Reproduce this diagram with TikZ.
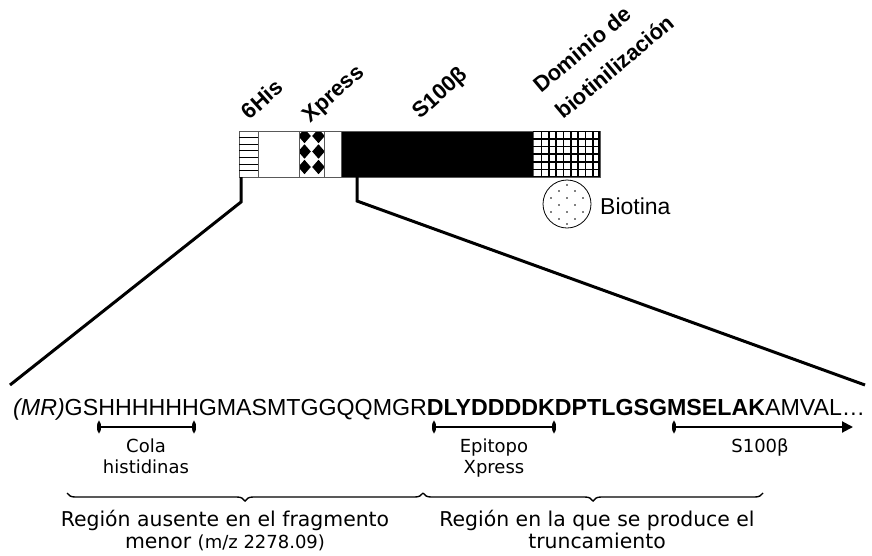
\documentclass[tikz,border=0pt]{standalone}
\usepackage{fontspec}
\setmainfont{Liberation Sans}
\newfontfamily\dvs{DejaVu Sans}
\usetikzlibrary{decorations.pathreplacing,arrows.meta}
\begin{document}
\begin{tikzpicture}[x=1pt,y=-1pt,
  seg/.style={rectangle, draw=black!65, line width=0.8pt, inner sep=0pt, outer sep=0pt, minimum height=46pt, anchor=north west},
  toplabel/.style={rotate=42, anchor=base west, inner sep=0pt, font=\fontsize{22}{26}\selectfont\bfseries},
  domlabel/.style={rotate=40, anchor=base west, inner sep=0pt, font=\fontsize{22}{26}\selectfont\bfseries},
  zoomline/.style={line width=3pt, line join=miter},
  span/.style={line width=2pt, {Ellipse[length=4pt,width=11pt]}-{Ellipse[length=4pt,width=11pt]}},
  spanarrow/.style={line width=2pt, {Ellipse[length=4pt,width=11pt]}-{Triangle[length=11pt,width=11pt]}},
  lbl/.style={font=\dvs\fontsize{18}{21}\selectfont, align=center, inner sep=0pt},
  region/.style={font=\dvs\fontsize{20.4}{22}\selectfont, align=center, inner sep=0pt},
  bracestyle/.style={decorate, decoration={brace, amplitude=8pt, mirror}, line width=1.4pt},
]
\useasboundingbox (0,0) rectangle (872,555);

% bar segments
\node[seg, minimum width=19pt] (his) at (239,131) {};
\node[seg, minimum width=41pt] (w1) at (258,131) {};
\node[seg, minimum width=25pt] (xp) at (299,131) {};
\node[seg, minimum width=17pt] (w2) at (324,131) {};
\node[seg, minimum width=192pt, fill=black] (s100) at (341,131) {};
\node[seg, minimum width=67pt] (bd) at (533,131) {};

% stripes
\foreach \yy in {137.6,144.2,150.8,157.4,164,170.6}
  \draw[line width=1pt] (239,\yy) -- (258,\yy);
% checker
\begin{scope}
  \clip (299,131) rectangle (324,177);
  \foreach \cx in {304.5,318.5}
    \foreach \cy in {136,151.5,167}
      \fill (\cx-6.3,\cy) -- (\cx,\cy-7.2) -- (\cx+6.3,\cy) -- (\cx,\cy+7.2) -- cycle;
\end{scope}
\draw[draw=black!65, line width=0.8pt] (xp.north west) rectangle (xp.south east);
% grid
\foreach \xx in {541.4,548.7,556.1,563.4,570.8,578.1,585.5,592.8,599}
  \draw[line width=1.6pt] (\xx,131) -- (\xx,177);
\foreach \yy in {131.5,138.7,146.3,154,161.7,169.3,176.5}
  \draw[line width=1.6pt] (533,\yy) -- (599.8,\yy);

% biotin
\node[circle, draw, line width=0.8pt, minimum size=48pt, inner sep=0pt] (biot) at (567,204) {};
\foreach \dx/\dy in {0/-19,-8/-13,8/-13,-16/-6,0/-6,16/-6,-8/1,8/1,-16/8,0/8,16/8,-8/15,8/15,0/20}
  \fill (567+\dx,204+\dy) circle (0.9);
\node[anchor=base west, font=\fontsize{23}{27}\selectfont, inner sep=0pt] (biolab) at (600,214) {Biotina};

% top labels
\node[toplabel] (l6his) at (249.8,120.7) {6His};
\node[toplabel] (lxp) at (310.5,123.3) {Xpress};
\node[toplabel] (ls100) at (420.5,120) {S100β};
\node[domlabel] (ldom1) at (541,94) {Dominio de};
\node[domlabel] (ldom2) at (563.6,120) {biotinilización};

% zoom lines
\coordinate (zl) at (241,177);
\coordinate (zlb) at (241,202);
\coordinate (fl) at (10,385);
\coordinate (zr) at (357,177);
\coordinate (zrb) at (357,201);
\coordinate (fr) at (865,385);
\draw[zoomline] (zl) -- (zlb) -- (fl);
\draw[zoomline] (zr) -- (zrb) -- (fr);

% sequence
\node[anchor=base west, inner sep=0pt, font=\fontsize{23.2}{27}\selectfont] (seq) at (13,415)
  {\textit{(MR)}GSHHHHHHGMASMTGGQQMGR\textbf{DLYDDDDKDPTLGSGMSELAK}AMVAL…};

% spans
\coordinate (c1) at (97,427);
\coordinate (c2) at (196,427);
\coordinate (e1) at (432,427);
\coordinate (e2) at (556,427);
\coordinate (s1) at (672,427);
\coordinate (s2) at (853,427);
\draw[span] (c1) -- (c2);
\draw[span] (e1) -- (e2);
\draw[spanarrow] (s1) -- (s2);

\node[lbl, anchor=north] (cola) at (146,438.3) {Cola\\histidinas};
\node[lbl, anchor=north] (epi) at (494,438.3) {Epitopo\\Xpress};
\node[lbl, anchor=base] (slab) at (760,452) {S100β};

% braces
\coordinate (b1) at (67,493);
\coordinate (b2) at (423,493);
\coordinate (b3) at (763,493);
\draw[bracestyle] (b1) -- (b2);
\draw[bracestyle] (b2) -- (b3);

\node[region, anchor=north] (r1) at (225,509.7)
  {Región ausente en el fragmento\\menor {\fontsize{18}{22}\selectfont(m/z 2278.09)}};
\node[region, anchor=north] (r2) at (597,509.7)
  {Región en la que se produce el\\truncamiento};
\end{tikzpicture}
\end{document}
